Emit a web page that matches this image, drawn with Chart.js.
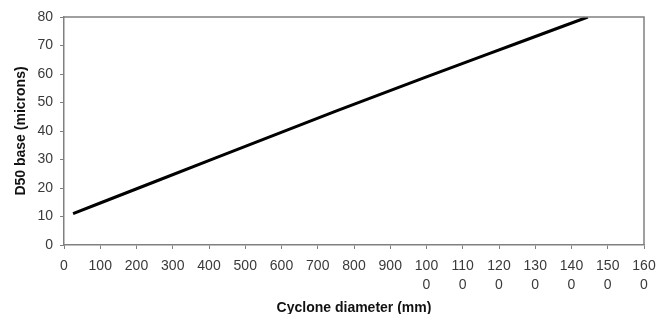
<!DOCTYPE html>
<html lang="en">
<head>
    <meta charset="UTF-8">
    <title>D50 base vs cyclone diameter</title>
    <style>
        html, body {
            margin: 0;
            padding: 0;
            background: #ffffff;
        }
        #wrap {
            width: 669px;
            height: 314px;
        }
    </style>
</head>
<body>
<div id="wrap">
    <canvas id="d50Chart" width="669" height="314"></canvas>
</div>

<script src="https://cdn.jsdelivr.net/npm/chart.js"></script>
<script>
    // values
    const diameters = [25, 250, 500, 750, 1000, 1250, 1445];
    const d50 = [11, 22.2, 34.6, 47, 59, 70.8, 80];
    const xTickLabels = ['0', '100', '200', '300', '400', '500', '600', '700', '800', '900',
        '1000', '1100', '1200', '1300', '1400', '1500', '1600'];
    const yTickLabels = ['0', '10', '20', '30', '40', '50', '60', '70', '80'];

    const axisGray = '#808080';
    const textGray = '#3a3a3a';

    // top and right border of the plot area
    const frame = {
        id: 'frame',
        afterDraw(chart) {
            const a = chart.chartArea;
            const ctx = chart.ctx;
            ctx.save();
            ctx.strokeStyle = axisGray;
            ctx.lineWidth = 1.5;
            ctx.beginPath();
            ctx.moveTo(a.left, a.top);
            ctx.lineTo(a.right, a.top);
            ctx.lineTo(a.right, a.bottom);
            ctx.stroke();
            ctx.restore();
        }
    };

    const points = diameters.map((d, i) => ({ x: d, y: d50[i] }));

    new Chart(document.getElementById('d50Chart'), {
        type: 'line',
        data: {
            datasets: [{
                data: points,
                borderColor: '#000000',
                borderWidth: 3,
                pointRadius: 0,
                cubicInterpolationMode: 'monotone',
                fill: false
            }]
        },
        options: {
            responsive: false,
            animation: false,
            events: [],
            layout: { padding: { top: 17, right: 25, bottom: 0, left: 0 } },
            plugins: {
                legend: { display: false },
                tooltip: { enabled: false }
            },
            scales: {
                x: {
                    type: 'linear',
                    min: 0,
                    max: 1600,
                    afterFit(scale) { scale.height = 69; },
                    border: { color: axisGray, width: 1.5 },
                    grid: { drawOnChartArea: false, tickLength: 4, color: axisGray, tickColor: axisGray },
                    ticks: {
                        stepSize: 100,
                        maxRotation: 0,
                        autoSkip: false,
                        padding: 7,
                        color: textGray,
                        font: { family: 'Liberation Sans, Arial, sans-serif', size: 14, lineHeight: 1.4 },
                        callback: (v, i) => {
                            const s = xTickLabels[i];
                            return s.length > 3 ? [s.slice(0, 3), s.slice(3)] : s;
                        }
                    },
                    title: {
                        display: true,
                        text: 'Cyclone diameter (mm)',
                        color: '#111111',
                        padding: { top: 0, bottom: -3 },
                        font: { family: 'Liberation Sans, Arial, sans-serif', size: 14, weight: 'bold' }
                    }
                },
                y: {
                    min: 0,
                    max: 80,
                    afterFit(scale) { scale.width = 64; },
                    border: { color: axisGray, width: 1.5 },
                    grid: { drawOnChartArea: false, tickLength: 4, color: axisGray, tickColor: axisGray },
                    ticks: {
                        stepSize: 10,
                        padding: 7,
                        color: textGray,
                        font: { family: 'Liberation Sans, Arial, sans-serif', size: 14 },
                        callback: (v, i) => yTickLabels[i]
                    },
                    title: {
                        display: true,
                        text: 'D50 base (microns)',
                        color: '#111111',
                        padding: { top: 13, bottom: 0 },
                        font: { family: 'Liberation Sans, Arial, sans-serif', size: 14, weight: 'bold' }
                    }
                }
            }
        },
        plugins: [frame]
    });
</script>
</body>
</html>
